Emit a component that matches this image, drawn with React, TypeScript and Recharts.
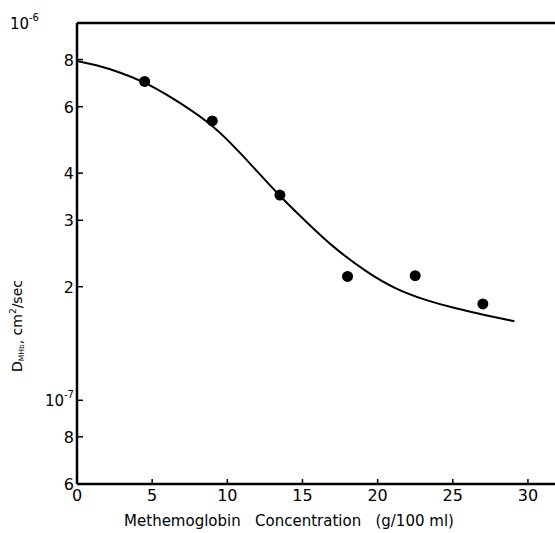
import { ComposedChart, Line, Scatter, XAxis, YAxis, ReferenceLine } from "recharts"

// diffusion coefficient, in units of 1e-7 cm^2/sec
const curveConc = [0, 0, 1.3, 2.9, 4.4, 6.2, 8.8, 10.2, 11.5, 13.5, 15.3, 17, 19.3, 21.2, 23.2, 25.2, 27.2, 29.1, 29.1]
const curveD = [7.93, 7.93, 7.74, 7.39, 7.0, 6.39, 5.46, 4.82, 4.25, 3.47, 2.96, 2.55, 2.18, 1.97, 1.84, 1.75, 1.68, 1.62, 1.62]

const pointConc = [4.5, 9, 13.5, 18, 22.5, 27]
const pointD = [7.0, 5.5, 3.5, 2.13, 2.14, 1.8]

const xTicks = [0, 5, 10, 15, 20, 25, 30]
const yTicks = [0.6, 0.8, 1, 2, 3, 4, 6, 8, 10]
const yTickLabels = ["6", "8", "10|-7", "2", "3", "4", "6", "8", "10|-6"]

const FONT = "'DejaVu Sans', sans-serif"

const curveData = curveConc.map((x, i) => ({ x, d: curveD[i] }))
const pointData = pointConc.map((x, i) => ({ x, d: pointD[i] }))

function YTick(props: any) {
  const { x, y, payload } = props
  const idx = yTicks.indexOf(payload.value)
  const label = yTickLabels[idx] ?? ""
  const isTop = payload.value === 10
  let text
  if (label.includes("|")) {
    const [base, exp] = label.split("|")
    text = (
      <text x={isTop ? x - 38 : x - 3} y={y + 6} textAnchor="end" fontFamily={FONT} fontSize={15} fill="#000">
        {base}
        <tspan fontSize={10} dy={-8}>{exp}</tspan>
      </text>
    )
  } else {
    text = (
      <text x={x - 3} y={y + 6} textAnchor="end" fontFamily={FONT} fontSize={16} fill="#000">
        {label}
      </text>
    )
  }
  return (
    <g>
      {!isTop && idx > 0 && <line x1={x} x2={x + 6} y1={y} y2={y} stroke="#000" strokeWidth={1.5} />}
      {text}
    </g>
  )
}

function XTick(props: any) {
  const { x, y, payload } = props
  return (
    <g>
      {payload.value > 0 && <line x1={x} x2={x} y1={y} y2={y - 5} stroke="#000" strokeWidth={1.5} />}
      <text x={x} y={y + 17} textAnchor="middle" fontFamily={FONT} fontSize={16} fill="#000">
        {payload.value}
      </text>
    </g>
  )
}

export default function App() {
  return (
    <div style={{ position: "absolute", left: 0, top: 0, width: 555, height: 533 }}>
      <ComposedChart width={555} height={533} margin={{ top: 23, right: 0, bottom: 0, left: 0 }}>
        <XAxis
          type="number"
          dataKey="x"
          domain={[0, 31.8]}
          ticks={xTicks}
          tick={<XTick />}
          tickSize={0}
          tickMargin={0}
          height={49}
          axisLine={{ stroke: "#000", strokeWidth: 2.5 }}
          tickLine={false}
          allowDataOverflow
        />
        <YAxis
          type="number"
          dataKey="d"
          scale="log"
          domain={[0.6, 10]}
          ticks={yTicks}
          tick={<YTick />}
          tickSize={0}
          tickMargin={0}
          width={77}
          axisLine={{ stroke: "#000", strokeWidth: 2.5 }}
          tickLine={false}
          allowDataOverflow
        />
        <ReferenceLine y={10} stroke="#000" strokeWidth={2.5} />
        <Line
          data={curveData}
          dataKey="d"
          type="basis"
          stroke="#000"
          strokeWidth={2}
          dot={false}
          activeDot={false}
          isAnimationActive={false}
        />
        <Scatter
          data={pointData}
          dataKey="d"
          fill="#000"
          shape={(p: any) => <circle cx={p.cx} cy={p.cy} r={5.5} fill="#000" />}
          isAnimationActive={false}
        />
      </ComposedChart>
      <svg width={555} height={533} style={{ position: "absolute", left: 0, top: 0, pointerEvents: "none" }}>
        <text x={289} y={526} textAnchor="middle" fontFamily={FONT} fontSize={15} fill="#000" style={{ whiteSpace: "pre" }}>
          {"Methemoglobin   Concentration   (g/100 ml)"}
        </text>
        <text
          transform="translate(22, 326) rotate(-90)"
          textAnchor="middle"
          fontFamily={FONT}
          fontSize={14}
          fill="#000"
        >
          D<tspan fontSize={7.5} dy={2}>MHb</tspan>
          <tspan dy={-2}>, cm</tspan>
          <tspan fontSize={9} dy={-6}>2</tspan>
          <tspan dy={6}>/sec</tspan>
        </text>
      </svg>
    </div>
  )
}
